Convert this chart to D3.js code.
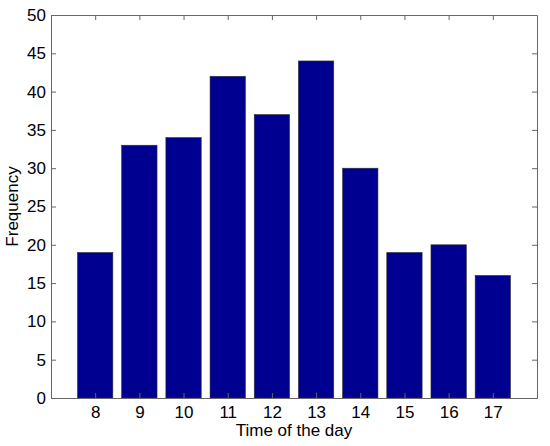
<!DOCTYPE html>
<html>
<head>
<meta charset="utf-8">
<script src="https://cdnjs.cloudflare.com/ajax/libs/d3/7.8.5/d3.min.js"></script>
<style>
  body { margin: 0; background: #fff; }
  svg text { font-family: Arial, "Liberation Sans", Helvetica, sans-serif; fill: #000; }
</style>
</head>
<body>
<div id="chart"></div>
<script>
const hours = [8, 9, 10, 11, 12, 13, 14, 15, 16, 17];
const counts = [19, 33, 34, 42, 37, 44, 30, 19, 20, 16];
const yTicks = [0, 5, 10, 15, 20, 25, 30, 35, 40, 45, 50];

const width = 550, height = 446;
const margin = { left: 51, right: 13, top: 15, bottom: 48 };
const innerW = width - margin.left - margin.right;
const innerH = height - margin.top - margin.bottom;

const svg = d3.select('#chart').append('svg')
  .attr('width', width)
  .attr('height', height);

const g = svg.append('g').attr('transform', `translate(${margin.left},${margin.top})`);

const x = d3.scaleLinear().domain([7, 18]).range([0, innerW]);
const y = d3.scaleLinear().domain([0, 50]).range([innerH, 0]);
const barW = (x(1) - x(0)) * 0.8;

g.selectAll('rect.bar').data(hours)
  .join('rect')
  .attr('class', 'bar')
  .attr('x', d => x(d) - barW / 2)
  .attr('width', barW)
  .attr('y', (d, i) => y(counts[i]))
  .attr('height', (d, i) => y(0) - y(counts[i]))
  .attr('fill', '#000090')
  .attr('stroke', '#333')
  .attr('stroke-width', 0.6);

// box + inward ticks, matlab style
const tickLen = 5;
const axisColor = '#666';

const axBottom = d3.axisBottom(x).tickValues(hours).tickSizeInner(-tickLen).tickSizeOuter(0).tickPadding(8);
const axLeft = d3.axisLeft(y).tickValues(yTicks).tickSizeInner(-tickLen).tickSizeOuter(0).tickPadding(5);
const axTop = d3.axisTop(x).tickValues(hours).tickSizeInner(-tickLen).tickSizeOuter(0).tickFormat('');
const axRight = d3.axisRight(y).tickValues(yTicks).tickSizeInner(-tickLen).tickSizeOuter(0).tickFormat('');

const gb = g.append('g').attr('transform', `translate(0,${innerH})`).call(axBottom);
const gl = g.append('g').call(axLeft);
const gt = g.append('g').call(axTop);
const gr = g.append('g').attr('transform', `translate(${innerW},0)`).call(axRight);

[gb, gl, gt, gr].forEach(a => {
  a.select('.domain').attr('stroke', axisColor);
  a.selectAll('.tick line').attr('stroke', axisColor);
  a.selectAll('.tick text').style('font-size', '17px').attr('fill', '#000');
});

g.append('text')
  .attr('x', innerW / 2)
  .attr('y', innerH + 38)
  .attr('text-anchor', 'middle')
  .style('font-size', '17px')
  .text('Time of the day');

g.append('text')
  .attr('transform', `translate(${-33},${innerH / 2}) rotate(-90)`)
  .attr('text-anchor', 'middle')
  .style('font-size', '17px')
  .text('Frequency');
</script>
</body>
</html>
